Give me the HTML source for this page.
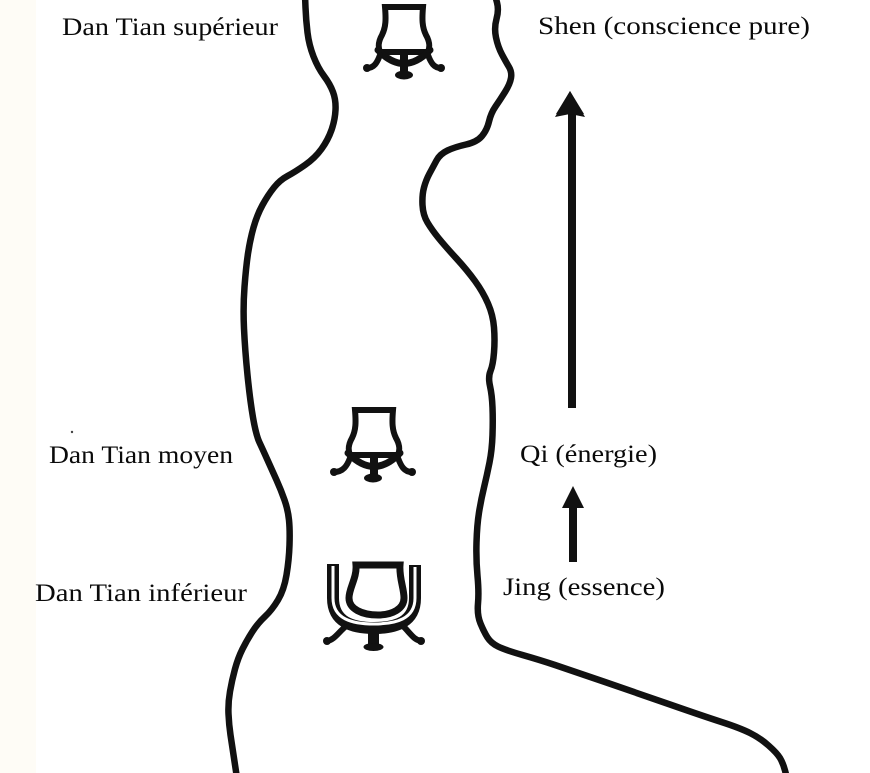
<!DOCTYPE html>
<html><head><meta charset="utf-8">
<style>
html,body{margin:0;padding:0;background:#fff;}
svg{display:block;}
text{font-family:"Liberation Serif",serif;font-size:25px;fill:#0a0a0a;}
</style></head>
<body>
<svg width="870" height="773" viewBox="0 0 870 773" xmlns="http://www.w3.org/2000/svg">
<rect width="870" height="773" fill="#fff"/>
<rect x="0" y="0" width="36" height="773" fill="#fdf5e2" opacity="0.3"/>

<!-- body outline -->
<g fill="none" stroke="#111" stroke-width="6.5" stroke-linejoin="round" stroke-linecap="round">
<path d="M305,-5 L305.5,7.5 Q306,20 307.5,32.5 Q309,45 313.5,56.5 Q318,68 324,76 Q330,84 333,92 Q336,100 335.5,110 Q335,120 331.5,130 Q328,140 321.5,149 Q315,158 305,165 Q295,172 287.5,176 Q280,180 274,187.5 Q268,195 262.5,205 Q257,215 253.5,227.5 Q250,240 248,253.5 Q246,267 244.5,287 Q243,307 244,328.5 Q245,350 247.5,375 Q250,400 253,417.5 Q256,435 259.5,442.5 Q263,450 267.5,460 Q272,470 276.5,480 Q281,490 284.5,500 Q288,510 289,520 Q290,530 289.5,545 Q289,560 286.5,575 Q284,590 278,600 Q272,610 265,616.5 Q258,623 252.5,631.5 Q247,640 242.5,649 Q238,658 235,669 Q232,680 230,691.5 Q228,703 228.5,714 Q229,725 230.5,735 Q232,745 237,778"/>
<path d="M495,-5 L497,2.5 Q499,10 496.5,19 Q494,28 496,37.5 Q498,47 502,54.5 Q506,62 509,67 Q512,72 511,78 Q510,84 505,92 Q500,100 495.5,106.5 Q491,113 489,121.5 Q487,130 482,136 Q477,142 466,144.5 Q455,147 447.5,150.5 Q440,154 436.5,160.5 Q433,167 429.5,173.5 Q426,180 424,187.5 Q422,195 422.5,205 Q423,215 427.5,222.5 Q432,230 438.5,238 Q445,246 456,258 Q467,270 475,281 Q483,292 488,303.5 Q493,315 494,327.5 Q495,340 494,352.5 Q493,365 490.5,371 Q488,377 490,386 Q492,395 492.5,407.5 Q493,420 492.5,435 Q492,450 489.5,462.5 Q487,475 484,487.5 Q481,500 479,512.5 Q477,525 476.5,542.5 Q476,560 477.5,576 Q479,592 478,603.5 Q477,615 480.5,623.5 Q484,632 487.5,637.5 Q491,643 498,646.5 Q505,650 522.5,655 Q540,660 555,665 Q570,670 603.5,681.5 Q637,693 670,704.5 Q703,716 721.5,722 Q740,728 750,733 Q760,738 768.5,745.5 Q777,753 780,758 Q783,763 785,770.5 L787,778"/>
</g>

<!-- upper vessel -->
<g transform="translate(404,5)" stroke="#111" fill="none" stroke-linecap="round">
<path d="M-19,2 L19,2 C18,14 18,22 22,30 C26,37 26,42 24,47 L-24,47 C-26,42 -26,37 -22,30 C-18,22 -18,14 -19,2 Z" stroke-width="6"/>
<path d="M-26,45 Q0,72 26,45" stroke-width="7"/>
<rect x="-4" y="46" width="8" height="23" fill="#111" stroke="none"/>
<ellipse cx="0" cy="70" rx="9" ry="4.5" fill="#111" stroke="none"/>
<path d="M-24,50 C-27,58 -30,63 -37,63" stroke-width="6"/>
<path d="M24,50 C27,58 30,63 37,63" stroke-width="6"/>
<circle cx="-37" cy="63" r="4" fill="#111" stroke="none"/>
<circle cx="37" cy="63" r="4" fill="#111" stroke="none"/>
</g>

<!-- middle vessel -->
<g transform="translate(374,408)" stroke="#111" fill="none" stroke-linecap="round">
<path d="M-19,2 L19,2 C18,14 18,22 22,30 C26,37 26,42 24,47 L-24,47 C-26,42 -26,37 -22,30 C-18,22 -18,14 -19,2 Z" stroke-width="6"/>
<path d="M-26,45 Q0,72 26,45" stroke-width="7"/>
<rect x="-4" y="46" width="8" height="23" fill="#111" stroke="none"/>
<ellipse cx="-1" cy="70" rx="9" ry="4.5" fill="#111" stroke="none"/>
<path d="M-24,50 C-27,58 -31,64 -40,64" stroke-width="6"/>
<path d="M24,50 C27,58 30,64 38,64" stroke-width="6"/>
<circle cx="-40" cy="64" r="4" fill="#111" stroke="none"/>
<circle cx="38" cy="64" r="4" fill="#111" stroke="none"/>
</g>

<!-- lower vessel -->
<g stroke="#111" fill="none" stroke-linecap="round">
<path d="M333,564 L333,598 C333,622 352,628 374,628 C396,628 415,622 415,598 L415,565" stroke-width="12" stroke-linecap="butt"/>
<path d="M333,566 L333,598 C333,619 352,624 374,624 C396,624 415,619 415,598 L415,567" stroke="#fff" stroke-width="3" stroke-linecap="butt"/>
<path d="M356,565 L400,565 C399,578 404,588 404,598 C404,609 392,615 378,615 C362,615 349,609 349,598 C349,588 357,578 356,565 Z" stroke-width="7"/>
<path d="M345,627 C338,633 334,640 327,641" stroke-width="6"/>
<path d="M404,627 C410,633 414,640 421,641" stroke-width="6"/>
<circle cx="327" cy="641" r="4" fill="#111" stroke="none"/>
<circle cx="421" cy="641" r="4" fill="#111" stroke="none"/>
<rect x="368" y="628" width="11" height="18" fill="#111" stroke="none"/>
<ellipse cx="373.5" cy="647" rx="10" ry="4" fill="#111" stroke="none"/>
</g>

<!-- arrows -->
<g fill="#111">
<rect x="568" y="110" width="8" height="298"/>
<polygon points="570,91 585,117 570,114 555,117"/>
<polygon points="570,91 584,114 556,114"/>
<rect x="569" y="503" width="8" height="59"/>
<polygon points="573,486 584,508 562,508"/>
</g>

<!-- labels -->
<text x="62" y="35" textLength="216" lengthAdjust="spacingAndGlyphs">Dan Tian supérieur</text>
<text x="538" y="34" textLength="272" lengthAdjust="spacingAndGlyphs">Shen (conscience pure)</text>
<text x="49" y="463" textLength="184" lengthAdjust="spacingAndGlyphs">Dan Tian moyen</text>
<text x="520" y="462" textLength="137" lengthAdjust="spacingAndGlyphs">Qi (énergie)</text>
<text x="35" y="601" textLength="212" lengthAdjust="spacingAndGlyphs">Dan Tian inférieur</text>
<text x="503" y="595" textLength="162" lengthAdjust="spacingAndGlyphs">Jing (essence)</text>

<circle cx="72" cy="432" r="1.2" fill="#444"/>
</svg>
</body></html>
